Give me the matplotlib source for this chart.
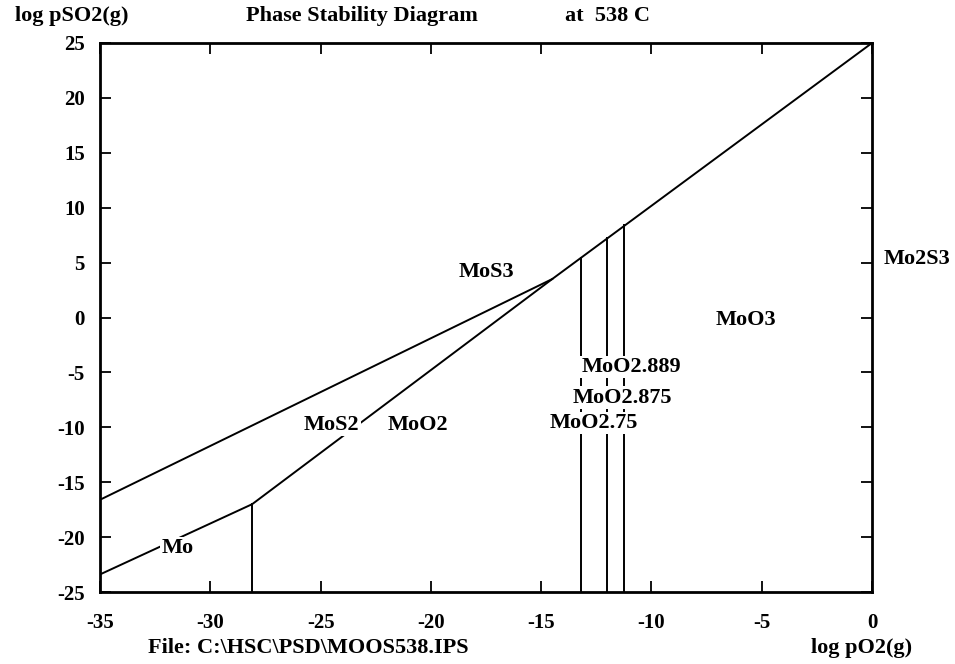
import matplotlib
matplotlib.use("Agg")
import matplotlib.pyplot as plt

# ---- data ----
# upper boundary (MoS2 / MoS3)
upper_x = [-35.0, -14.5]
upper_y = [-16.6, 3.5]
# lower boundary (Mo / MoS2 -> MoS2 / MoO2 -> MoS3 / oxides)
lower_x = [-35.0, -28.1, -14.5, 0.0]
lower_y = [-23.4, -17.0, 3.5, 25.0]
# vertical boundaries (x position, top y)
vert_x = [-28.1, -13.2, -12.0, -11.25]
vert_top = [-17.0, 5.45, 7.25, 8.4]

region_labels = ["MoS3", "MoS2", "MoO2", "Mo", "MoO3"]
region_x = [-17.5, -24.5, -20.6, -31.5, -5.7]
region_y = [4.1, -9.8, -9.8, -21.0, -0.2]

oxide_labels = ["MoO2.889", "MoO2.875", "MoO2.75"]
oxide_x = [-10.9, -11.3, -12.6]
oxide_y = [-4.5, -7.3, -9.6]

x_ticks = [-35, -30, -25, -20, -15, -10, -5, 0]
y_ticks = [-25, -20, -15, -10, -5, 0, 5, 10, 15, 20, 25]

plt.rcParams['font.family'] = ['Liberation Serif', 'DejaVu Serif']
plt.rcParams['font.weight'] = 'bold'

W, H = 955, 664
fig = plt.figure(figsize=(W / 100, H / 100), dpi=100)
left, right, top, bottom = 100, 872, 43, 592
ax = fig.add_axes([left / W, 1 - bottom / H, (right - left) / W, (bottom - top) / H])

lw = 1.4
ax.plot(upper_x, upper_y, color='black', lw=lw)
ax.plot(lower_x, lower_y, color='black', lw=lw)
for vx, vt in zip(vert_x, vert_top):
    ax.plot([vx, vx], [-25, vt], color='black', lw=lw)

fs = 16
for lab, x, y in zip(region_labels, region_x, region_y):
    ax.text(x, y, lab, ha='center', va='center', fontsize=fs, fontweight='bold',
            bbox=dict(facecolor='white', edgecolor='none', pad=1.0), zorder=5)
for lab, x, y in zip(oxide_labels, oxide_x, oxide_y):
    ax.text(x, y, lab, ha='center', va='center', fontsize=fs, fontweight='bold',
            bbox=dict(facecolor='white', edgecolor='none', pad=1.0), zorder=5)

ax.annotate("Mo2S3", xy=(0, 5.3), xytext=(8, 0), textcoords='offset points',
            ha='left', va='center', fontsize=fs, fontweight='bold', annotation_clip=False)

ax.set_xlim(-35, 0)
ax.set_ylim(-25, 25)
ax.set_xticks(x_ticks)
ax.set_yticks(y_ticks)
ax.set_xticklabels([str(t) for t in x_ticks])
ax.set_yticklabels([str(t) for t in y_ticks])
ax.tick_params(direction='in', length=8, width=1.3, top=True, right=True,
               labelsize=15, colors='black')
ax.tick_params(axis='x', pad=15)
ax.tick_params(axis='y', pad=11)
for lbl in ax.get_xticklabels() + ax.get_yticklabels():
    lbl.set_fontweight('bold')
for s in ax.spines.values():
    s.set_linewidth(2.0)

ty = 1 - 16 / H
fig.text(15 / W, ty, "log pSO2(g)", ha='left', va='center', fontsize=fs, fontweight='bold')
fig.text(246 / W, ty, "Phase Stability Diagram", ha='left', va='center', fontsize=fs, fontweight='bold')
fig.text(565 / W, ty, "at  538 C", ha='left', va='center', fontsize=fs, fontweight='bold')

by = 1 - 648 / H
fig.text(148 / W, by, "File: C:\\HSC\\PSD\\MOOS538.IPS", ha='left', va='center', fontsize=fs, fontweight='bold')
fig.text(811 / W, by, "log pO2(g)", ha='left', va='center', fontsize=fs, fontweight='bold')

fig.savefig("out.png", dpi=100)
